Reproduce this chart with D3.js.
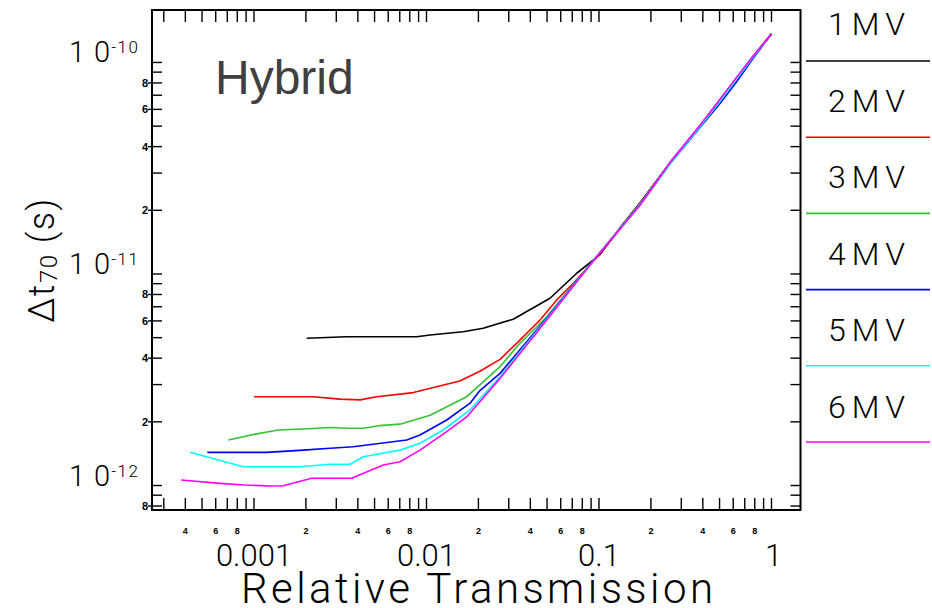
<!DOCTYPE html>
<html>
<head>
<meta charset="utf-8">
<script src="https://cdn.jsdelivr.net/npm/d3@7"></script>
<style>
  html, body { margin: 0; padding: 0; background: #fff; }
  svg { display: block; }
</style>
</head>
<body>
<svg id="chart" width="932" height="608"></svg>
<script>
// ---------------- DATA ----------------
const seriesNames  = ["1MV", "2MV", "3MV", "4MV", "5MV", "6MV"];
const seriesColors = ["#000000", "#ff0000", "#33c433", "#0000ff", "#00ffff", "#ff00ff"];

// Relative transmission (x) and Δt70 in seconds (y), per series
const mv1T  = [2.02e-3, 3.44e-3, 8.77e-3, 1.05e-2, 1.63e-2, 2.13e-2, 3.18e-2, 5.2e-2, 7.43e-2, 0.101, 0.132, 0.173, 0.258, 0.385, 0.503, 0.628, 0.785, 1.0];
const mv1Dt = [4.97e-12, 5.05e-12, 5.05e-12, 5.15e-12, 5.33e-12, 5.54e-12, 6.11e-12, 7.68e-12, 1.008e-11, 1.23e-11, 1.65e-11, 2.17e-11, 3.36e-11, 5.0e-11, 6.65e-11, 8.45e-11, 1.073e-10, 1.365e-10];

const mv2T  = [1.0e-3, 2.21e-3, 3.15e-3, 4.12e-3, 5.14e-3, 8.39e-3, 1.56e-2, 2.04e-2, 2.67e-2, 3.33e-2, 4.55e-2, 5.69e-2, 7.10e-2, 0.101, 0.173, 0.258, 0.385, 0.503, 0.628, 0.785, 1.0];
const mv2Dt = [2.63e-12, 2.63e-12, 2.56e-12, 2.54e-12, 2.63e-12, 2.75e-12, 3.12e-12, 3.47e-12, 3.95e-12, 4.70e-12, 6.06e-12, 7.54e-12, 9.04e-12, 1.24e-11, 2.15e-11, 3.35e-11, 5.0e-11, 6.65e-11, 8.45e-11, 1.073e-10, 1.365e-10];

const mv3T  = [7.10e-4, 9.48e-4, 1.38e-3, 1.93e-3, 2.76e-3, 3.60e-3, 4.30e-3, 5.37e-3, 7.02e-3, 1.05e-2, 1.71e-2, 2.04e-2, 2.67e-2, 3.48e-2, 4.98e-2, 9.7e-2, 0.173, 0.258, 0.385, 0.503, 0.628, 0.785, 1.0];
const mv3Dt = [1.64e-12, 1.73e-12, 1.83e-12, 1.85e-12, 1.88e-12, 1.865e-12, 1.865e-12, 1.92e-12, 1.95e-12, 2.15e-12, 2.63e-12, 2.99e-12, 3.65e-12, 4.70e-12, 6.28e-12, 1.21e-11, 2.14e-11, 3.35e-11, 5.0e-11, 6.65e-11, 8.45e-11, 1.073e-10, 1.365e-10];

const mv4T  = [5.36e-4, 1.185e-3, 1.93e-3, 2.76e-3, 3.76e-3, 7.68e-3, 9.17e-3, 1.31e-2, 1.79e-2, 2.04e-2, 2.67e-2, 4.98e-2, 9.7e-2, 0.173, 0.258, 0.385, 0.503, 0.628, 0.785, 1.0];
const mv4Dt = [1.435e-12, 1.435e-12, 1.47e-12, 1.50e-12, 1.526e-12, 1.64e-12, 1.733e-12, 2.04e-12, 2.45e-12, 2.81e-12, 3.39e-12, 6.19e-12, 1.21e-11, 2.12e-11, 3.32e-11, 4.92e-11, 6.4e-11, 8.1e-11, 1.05e-10, 1.365e-10];

const mv5T  = [4.26e-4, 8.67e-4, 1.85e-3, 2.76e-3, 3.60e-3, 4.30e-3, 7.02e-3, 9.17e-3, 1.25e-2, 1.79e-2, 2.67e-2, 4.98e-2, 9.7e-2, 0.173, 0.258, 0.385, 0.503, 0.628, 0.785, 1.0];
const mv5Dt = [1.435e-12, 1.227e-12, 1.227e-12, 1.26e-12, 1.26e-12, 1.368e-12, 1.47e-12, 1.585e-12, 1.83e-12, 2.28e-12, 3.27e-12, 6.13e-12, 1.21e-11, 2.13e-11, 3.33e-11, 4.96e-11, 6.55e-11, 8.35e-11, 1.065e-10, 1.365e-10];

const mv6T  = [3.78e-4, 6.35e-4, 8.87e-4, 1.238e-3, 1.48e-3, 2.16e-3, 3.68e-3, 5.62e-3, 7.02e-3, 9.17e-3, 1.31e-2, 1.71e-2, 2.67e-2, 4.98e-2, 9.7e-2, 0.173, 0.258, 0.385, 0.503, 0.628, 0.785, 1.0];
const mv6Dt = [1.062e-12, 1.024e-12, 1.005e-12, 9.95e-13, 9.98e-13, 1.082e-12, 1.082e-12, 1.25e-12, 1.296e-12, 1.47e-12, 1.797e-12, 2.11e-12, 3.21e-12, 6.06e-12, 1.208e-11, 2.12e-11, 3.37e-11, 5.05e-11, 6.7e-11, 8.5e-11, 1.076e-10, 1.365e-10];

const xMajorTicks  = [0.001, 0.01, 0.1, 1];
const xMajorLabels = ["0.001", "0.01", "0.1", "1"];
const yMajorTicks  = [1e-10, 1e-11, 1e-12];
const yMajorExps   = ["-10", "-11", "-12"];
const labeledMantissas = [2, 4, 6, 8];

const titleText  = "Hybrid";
const xTitleText = "Relative Transmission";

// ---------------- LAYOUT ----------------
const PL = 152, PR = 800.5, PT = 10, PB = 510;
const FONT = "Roboto, 'Liberation Sans', Arial, sans-serif";

const svg = d3.select("#chart");

const x = d3.scaleLog().domain([2.563e-4, 1.473]).range([PL, PR]);
const y = d3.scaleLog().domain([7.66e-13, 1.77e-10]).range([PB, PT]);

const seriesT  = [mv1T, mv2T, mv3T, mv4T, mv5T, mv6T];
const seriesDt = [mv1Dt, mv2Dt, mv3Dt, mv4Dt, mv5Dt, mv6Dt];
const series = seriesNames.map((name, i) => ({
  name, color: seriesColors[i],
  values: seriesT[i].map((t, j) => ({ t, dt: seriesDt[i][j] }))
}));

// ---------- ticks ----------
function logTicks(domain) {
  const lo = Math.floor(Math.log10(domain[0])), hi = Math.ceil(Math.log10(domain[1]));
  const out = [];
  for (let e = lo; e <= hi; e++) {
    for (let m = 1; m <= 9; m++) {
      const v = +(m * Math.pow(10, e)).toPrecision(6);
      if (v >= domain[0] && v <= domain[1]) out.push({ v, m });
    }
  }
  return out;
}
const xt = logTicks(x.domain());
const yt = logTicks(y.domain());

const axisG = svg.append("g").attr("stroke", "#000").attr("stroke-width", 1.4);
const XTL = 12, YTL = 10;
xt.forEach(d => {
  const px = x(d.v);
  axisG.append("line").attr("x1", px).attr("x2", px).attr("y1", PB).attr("y2", PB - XTL);
  axisG.append("line").attr("x1", px).attr("x2", px).attr("y1", PT).attr("y2", PT + XTL);
});
yt.forEach(d => {
  const py = y(d.v);
  const lab = labeledMantissas.includes(d.m);
  axisG.append("line").attr("x1", lab ? PL - 4 : PL).attr("x2", PL + YTL).attr("y1", py).attr("y2", py);
  axisG.append("line").attr("x1", PR).attr("x2", PR - YTL).attr("y1", py).attr("y2", py);
});

// frame
svg.append("rect").attr("x", PL).attr("y", PT).attr("width", PR - PL).attr("height", PB - PT)
  .attr("fill", "none").attr("stroke", "#000").attr("stroke-width", 2);

// minor tick labels
xt.filter(d => labeledMantissas.includes(d.m)).forEach(d => {
  svg.append("text").attr("x", x(d.v)).attr("y", 534).attr("text-anchor", "middle")
    .attr("font-family", "'Liberation Sans', Arial, sans-serif").attr("font-weight", "bold")
    .attr("font-size", 9).attr("fill", "#000").text(d.m);
});
yt.filter(d => labeledMantissas.includes(d.m)).forEach(d => {
  svg.append("text").attr("x", PL - 4).attr("y", y(d.v) + 4).attr("text-anchor", "end")
    .attr("font-family", "'Liberation Sans', Arial, sans-serif").attr("font-weight", "bold")
    .attr("font-size", 11).attr("fill", "#000").text(d.m);
});

// major labels
xMajorTicks.forEach((v, i) => {
  svg.append("text").attr("x", x(v) + (xMajorLabels[i] === "1" ? 2 : 0)).attr("y", 566)
    .attr("text-anchor", "middle").attr("font-family", FONT).attr("font-weight", 300)
    .attr("font-size", 31).attr("fill", "#000").text(xMajorLabels[i]);
});
yMajorTicks.forEach((v, i) => {
  const py = y(v);
  const t = svg.append("text").attr("x", 69).attr("y", py).attr("font-family", FONT)
    .attr("font-weight", 300).attr("fill", "#000");
  t.append("tspan").attr("font-size", 29).text("1");
  t.append("tspan").attr("font-size", 29).attr("dx", 9).text("0");
  t.append("tspan").attr("font-size", 17).attr("dx", 1).attr("dy", -9)
    .attr("letter-spacing", 1.5).text(yMajorExps[i]);
});

// axis titles
svg.append("text").attr("x", 241).attr("y", 603).attr("font-family", FONT).attr("font-weight", 300)
  .attr("font-size", 42).attr("textLength", 472).attr("lengthAdjust", "spacing")
  .attr("fill", "#000").text(xTitleText);

const yTitle = svg.append("text").attr("transform", "translate(54,260) rotate(-90)")
  .attr("text-anchor", "middle").attr("font-family", FONT).attr("font-weight", 300)
  .attr("font-size", 36).attr("letter-spacing", 1.5).attr("fill", "#000");
yTitle.append("tspan").text("Δt");
yTitle.append("tspan").attr("font-size", 24).attr("dy", 3).text("70");
yTitle.append("tspan").attr("dy", -3).text(" (s)");

// title
svg.append("text").attr("x", 215).attr("y", 94).attr("font-family", "'Liberation Sans', Arial, sans-serif")
  .attr("font-size", 48).attr("fill", "#404040").text(titleText);

// ---------- lines ----------
const line = d3.line().x(d => x(d.t)).y(d => y(d.dt));
const plotG = svg.append("g");
series.forEach(s => {
  plotG.append("path").datum(s.values).attr("d", line)
    .attr("fill", "none").attr("stroke", s.color).attr("stroke-width", 1.6)
    .attr("stroke-linejoin", "round");
});

// ---------- legend ----------
const legG = svg.append("g");
series.forEach((s, i) => {
  const base = 35 + i * 76.6;
  legG.append("text").attr("x", 828).attr("y", base).attr("font-family", FONT).attr("font-weight", 300)
    .attr("font-size", 32).attr("textLength", 77).attr("lengthAdjust", "spacing")
    .attr("fill", "#000").text(s.name);
  legG.append("line").attr("x1", 806).attr("x2", 930)
    .attr("y1", 61 + i * 76.2).attr("y2", 61 + i * 76.2)
    .attr("stroke", s.color).attr("stroke-width", 1.6);
});
</script>
</body>
</html>
